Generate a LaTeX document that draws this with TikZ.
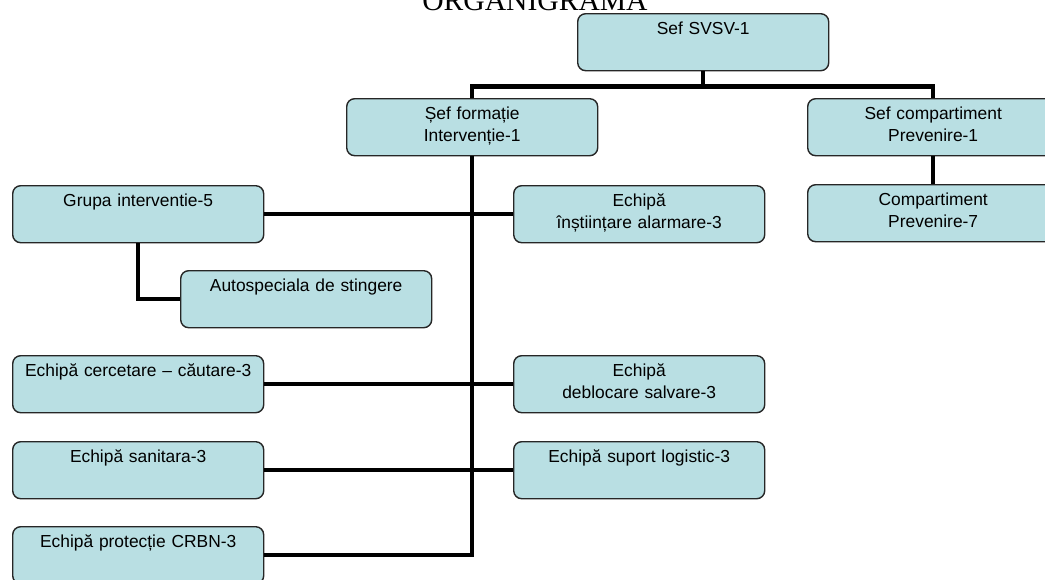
\documentclass[tikz,border=0pt]{standalone}
\usepackage{fontspec}
\newfontfamily\boxfont{Liberation Sans}
\newfontfamily\titlefont{Liberation Serif}
\definecolor{boxfill}{RGB}{185,223,227}
\begin{document}
\begin{tikzpicture}[x=1pt,y=-1pt,
  orgbox/.style={draw=black!85, line width=1.4pt, fill=boxfill, rounded corners=8pt,
    inner xsep=0pt, inner ysep=0pt, minimum width=251pt, minimum height=57pt,
    text width=251pt, align=center, anchor=north west,
    text height=21pt, text depth=36pt,
    font=\boxfont\fontsize{17.4}{21.5}\selectfont},
  conn/.style={draw=black, line width=4.5pt, line join=miter}]
\useasboundingbox (0,0) rectangle (1045,579);
\clip (0,0) rectangle (1045,579);

\node[anchor=base, font=\titlefont\fontsize{29.6}{32}\selectfont] (title) at (535,10.7) {ORGANIGRAMA};

\node[orgbox] (svsv) at (577,13) {Sef SVSV-1};
\node[orgbox] (formatie) at (346,98) {Șef formație\\Intervenție-1};
\node[orgbox] (compart) at (807,98) {Sef compartiment\\Prevenire-1};
\node[orgbox] (grupa) at (12,185) {Grupa interventie-5};
\node[orgbox] (instiint) at (513,185) {Echipă\\înștiințare alarmare-3};
\node[orgbox] (prev7) at (807,184) {Compartiment\\Prevenire-7};
\node[orgbox] (auto) at (180,270) {Autospeciala de stingere};
\node[orgbox] (cercetare) at (12,355) {Echipă cercetare – căutare-3};
\node[orgbox] (deblocare) at (513,355) {Echipă\\deblocare salvare-3};
\node[orgbox] (sanitara) at (12,441) {Echipă sanitara-3};
\node[orgbox] (suport) at (513,441) {Echipă suport logistic-3};
\node[orgbox] (protectie) at (12,526) {Echipă protecție CRBN-3};

\draw[conn] (svsv.south) -- ++(0,15) -| (formatie.north);
\draw[conn] (svsv.south) -- ++(0,15) -| (compart.north);
\draw[conn] (compart.south) -- (prev7.north);
\draw[conn] (formatie.south) |- (protectie.east);
\draw[conn] (grupa.east) -- (instiint.west);
\draw[conn] (grupa.south) |- (auto.west);
\draw[conn] (cercetare.east) -- (deblocare.west);
\draw[conn] (sanitara.east) -- (suport.west);
\end{tikzpicture}
\end{document}
